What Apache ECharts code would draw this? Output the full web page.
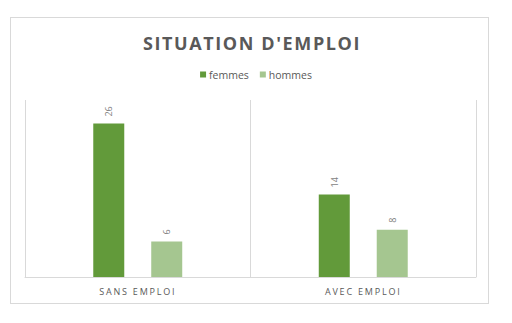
<!DOCTYPE html>
<html>
<head>
<meta charset="utf-8">
<script src="https://cdn.jsdelivr.net/npm/echarts@6/dist/echarts.min.js"></script>
<style>
  html, body { margin: 0; padding: 0; background: #fff; }
  #frame { position: absolute; left: 10px; top: 17px; width: 479px; height: 287px; border: 1px solid #d9d9d9; box-sizing: border-box; }
  #chart { width: 512px; height: 323px; position: absolute; left: 0; top: 0; }
</style>
</head>
<body>
<div id="frame"></div>
<div id="chart"></div>
<script>
// Employment situation by sex
const categories = ['SANS EMPLOI', 'AVEC EMPLOI'];
const femmes = [26, 14];
const hommes = [6, 8];
const seriesNames = ['femmes', 'hommes'];
const titleText = "SITUATION D'EMPLOI";

const chart = echarts.init(document.getElementById('chart'), null, { renderer: 'svg' });

const labelStyle = {
  show: true,
  position: 'top',
  rotate: 90,
  align: 'left',
  verticalAlign: 'middle',
  distance: 7,
  color: '#7f7f7f',
  fontSize: 9,
  fontFamily: 'Open Sans'
};

chart.setOption({
  animation: false,
  backgroundColor: 'transparent',
  title: {
    text: titleText,
    left: 247,
    top: 29,
    textAlign: 'center',
    textStyle: { color: '#595959', fontSize: 18, fontWeight: 'bold', fontFamily: 'Open Sans' }
  },
  legend: {
    data: seriesNames,
    top: 64,
    left: 'center',
    itemWidth: 6,
    itemHeight: 6,
    itemGap: 11,
    icon: 'rect',
    textStyle: { color: '#595959', fontSize: 10.5, fontFamily: 'Open Sans', padding: [0, 0, 0, -2] }
  },
  grid: { left: 25, right: 36, top: 100, bottom: 46, containLabel: false },
  xAxis: {
    type: 'category',
    data: categories,
    axisLine: { lineStyle: { color: '#d9d9d9' } },
    axisTick: { show: false },
    axisLabel: { color: '#595959', fontSize: 9, fontFamily: 'Open Sans', margin: 10 },
    splitLine: { show: true, lineStyle: { color: '#d9d9d9' } }
  },
  yAxis: {
    type: 'value',
    min: 0,
    max: 30,
    show: false,
    splitLine: { show: false }
  },
  series: [
    {
      name: 'femmes',
      type: 'bar',
      data: femmes,
      barWidth: 31,
      barGap: '87%',
      itemStyle: { color: '#629a3a' },
      label: labelStyle
    },
    {
      name: 'hommes',
      type: 'bar',
      data: hommes,
      barWidth: 31,
      itemStyle: { color: '#a5c690' },
      label: labelStyle
    }
  ]
});

// Spaced-out lettering for the title and the category names
function spaceLetters() {
  document.querySelectorAll('#chart svg text').forEach(function (t) {
    const s = t.textContent;
    if (s === titleText) t.style.letterSpacing = '1.6px';
    else if (categories.indexOf(s) >= 0) t.style.letterSpacing = '1.8px';
  });
}
chart.on('rendered', spaceLetters);
spaceLetters();
</script>
</body>
</html>
